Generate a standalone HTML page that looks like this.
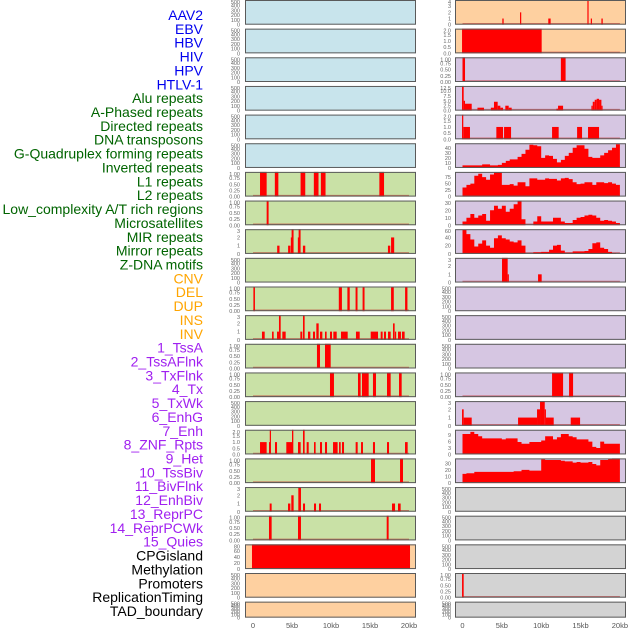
<!DOCTYPE html>
<html><head><meta charset="utf-8"><style>
html,body{margin:0;padding:0;background:#fff}
svg{display:block}
</style></head><body>
<svg id="chart" width="630" height="630" viewBox="0 0 630 630" xmlns="http://www.w3.org/2000/svg" font-family="Liberation Sans, sans-serif">
<g id="labels"></g>
<g id="panels"></g>
<g id="xaxes"></g>
</svg>
<script>
// ---- labels ----
const trackLabels = ["AAV2","EBV","HBV","HIV","HPV","HTLV-1","Alu repeats","A-Phased repeats","Directed repeats","DNA transposons","G-Quadruplex forming repeats","Inverted repeats","L1 repeats","L2 repeats","Low_complexity A/T rich regions","Microsatellites","MIR repeats","Mirror repeats","Z-DNA motifs","CNV","DEL","DUP","INS","INV","1_TssA","2_TssAFlnk","3_TxFlnk","4_Tx","5_TxWk","6_EnhG","7_Enh","8_ZNF_Rpts","9_Het","10_TssBiv","11_BivFlnk","12_EnhBiv","13_ReprPC","14_ReprPCWk","15_Quies","CPGisland","Methylation","Promoters","ReplicationTiming","TAD_boundary"];
const labelGroups = ["v","v","v","v","v","v","r","r","r","r","r","r","r","r","r","r","r","r","r","s","s","s","s","s","c","c","c","c","c","c","c","c","c","c","c","c","c","c","c","o","o","o","o","o"];
const xTickLabels = ["0","5kb","10kb","15kb","20kb"];
const xTickValues = [0,5,10,15,20];

// ---- tick sets ----
const T1 = ["0.00","0.25","0.50","0.75","1.00"];
const T2 = ["0.0","0.5","1.0","1.5","2.0"];
const T3 = ["0","1","2","3"];
const T4 = ["0","1","2","3","4"];
const TE = ["0","100","200","300","400","500"];
const TCNV = ["0","20","40","60","80"];
const TFLNK = ["0.0","2.5","5.0","7.5","10.0","12.5"];
const TTX = ["0","10","20","30","40"];
const TTXWK = ["0","25","50","75"];
const T30 = ["0","10","20","30"];
const T60 = ["0","20","40","60"];
const T9 = ["0","3","6","9"];

// ---- bar data: [startKb, endKb, value] ----
const alu = [[0.9,1.75,1],[2.8,3.25,1],[6.1,6.7,1],[7.8,8.4,1],[8.7,9.3,1],[16.2,16.8,1]];
const aphased = [[1.75,2.0,1]];
const directed = [[3.1,3.4,1],[4.5,4.8,1],[4.85,4.95,2],[4.95,5.2,3],[5.75,5.85,2],[5.85,6.1,3],[6.4,6.7,1],[17.3,17.6,1],[17.7,18.1,2]];
const gquad = [[0.05,0.25,1],[11.0,11.4,1],[12.1,12.4,1],[13.15,13.4,1],[14.05,14.3,1],[17.7,18.05,1],[19.5,19.8,1]];
const inverted = [[1.15,1.5,1],[2.44,2.65,1],[3.08,3.33,1],[3.33,3.55,3],[3.76,4.19,1],[6.07,6.32,1],[6.41,6.62,3],[7.05,7.35,1],[7.69,7.95,1],[8.12,8.42,2],[8.59,8.89,1],[9.23,9.44,1],[9.87,10.13,1],[10.3,10.73,1],[11.28,12.14,1],[13.2,13.68,1],[15.09,16.03,1],[16.37,16.62,1],[16.79,17.05,1],[17.31,17.65,1],[17.95,18.16,2],[18.2,18.33,1],[18.59,18.97,1],[19.1,19.44,1]];
const l1 = [[8.2,8.59,1],[9.23,9.96,1]];
const l2 = [[9.87,10.38,1],[13.46,13.8,1],[13.97,14.83,1],[15.38,15.77,1],[17.18,17.65,1],[18.72,19.06,1]];
const micro = [[0.9,1.75,1],[2.05,2.15,1],[2.15,2.3,2],[2.82,3.08,1],[4.27,5.0,1],[5.0,5.17,2],[5.77,6.11,1],[6.41,6.62,2],[6.88,7.14,1],[7.82,8.03,1],[8.59,8.85,1],[9.23,9.49,1],[10.26,10.85,1],[11.03,11.24,1],[11.41,11.67,1],[13.16,13.42,1],[13.85,14.1,1],[15.38,15.64,1],[17.18,17.44,1],[19.49,19.83,1]];
const mir = [[15.13,15.64,1],[18.85,19.23,1]];
const mirror = [[2.14,2.39,1],[4.49,4.79,1],[4.91,5.21,2],[5.81,6.15,3],[6.41,6.67,1],[7.82,8.08,1],[8.46,8.72,1],[17.82,18.21,1],[18.59,18.93,1]];
const zdna = [[2.05,2.39,1],[5.77,6.15,1],[17.14,17.39,1]];
const cnv = [[-0.13,20.13,82]];
const ins = [[5.06,5.23,1],[7.31,7.44,2],[10.9,11.2,1],[15.87,16.0,4],[16.3,16.45,1],[17.65,17.82,1]];
const inv = [[-0.06,10.06,2]];
const tssa = [[0,0.32,1],[12.5,13.1,1]];
const tssaflnk = [[-0.06,0.15,12.5],[0.15,0.32,5],[0.32,1.17,3.5],[1.9,2.73,1.5],[3.6,4.0,1.5],[4.0,4.47,4.5],[4.47,4.81,2.5],[4.81,5.15,1.5],[5.44,5.87,2.5],[5.87,6.25,1.5],[11.93,12.14,1],[12.14,12.78,2.5],[16.38,16.55,2.5],[16.55,16.8,4.5],[16.8,17.05,5.5],[17.05,17.35,6],[17.35,17.65,5.5],[17.65,17.72,2.5]];
const txflnk = [[-0.06,0.1,2],[0.1,0.95,1],[4.3,5.15,1],[5.28,6.17,1],[11.38,12.22,1],[14.56,15.19,1],[15.95,17.35,1]];
const znf = [[5.02,5.74,3],[5.74,5.87,1],[9.6,10.06,1]];
const enhbiv = [[11.38,12.78,1],[13.54,14.05,1]];
const reprpc = [[-0.06,0.15,2],[0.15,1.17,1],[7.06,9.47,1],[9.47,9.85,2],[9.85,10.45,3],[10.45,10.6,2],[10.6,11.59,1],[13.75,14.94,1]];
const repl = [[-0.06,0.15,1]];

// ---- binned profiles (0.5kb bins from 0 to 20kb) ----
const tx = [5,5,5,5,5,7,7,5,5,6,10,14,17,17,22,28,36,46,45,43,20,25,24,18,11,16,24,30,40,45,45,38,22,20,20,25,30,35,40,47];
const txwk = [35,45,50,80,88,75,65,85,93,93,45,45,48,42,55,55,40,70,70,65,65,70,68,68,62,70,72,67,55,48,50,55,55,45,55,55,52,55,50,45];
const enhg = [5,10,15,10,13,15,6,20,26,22,26,18,22,28,33,8,0,0,5,12,5,5,5,10,10,5,3,3,7,10,11,13,14,13,10,6,7,6,5,3];
const enh = [58,48,35,18,25,33,20,15,38,45,38,35,30,28,33,20,0,0,4,4,5,5,10,20,22,8,3,3,6,6,6,7,12,26,28,15,12,5,2,0];
const reprpcwk = [9.5,9.5,10.5,9.5,8.5,7.5,7.5,7.5,7.5,7.5,7,7.5,7.5,7.5,5.8,5,5,5.8,5.8,5.8,6.5,8.5,8.5,7,8,9.5,9.5,8.5,8,7,7,7,6,3.5,3,6,5,5,5,5];
const quies = [14,15,15,17,17,17,17,17,17,17,17,17,17,18,18,20,20,19,19,19,36,35,35,35,35,34,33,33,31,32,31,31,32,29,27,35,35,37,37.5,37.5];

// panel specs: [col,row,bg,type,data,ticks,ymax,name]
const BLUE="#c8e4ec",GREEN="#c9e1a6",PEACH="#fed0a0",PURP="#d6c6e2",GREY="#d3d3d3";
const panelSpecs = [
 [0,0,BLUE,"e",null,TE,520,"AAV2"],[0,1,BLUE,"e",null,TE,520,"EBV"],[0,2,BLUE,"e",null,TE,520,"HBV"],
 [0,3,BLUE,"e",null,TE,520,"HIV"],[0,4,BLUE,"e",null,TE,520,"HPV"],[0,5,BLUE,"e",null,TE,520,"HTLV-1"],
 [0,6,GREEN,"b",alu,T1,1,"Alu"],[0,7,GREEN,"b",aphased,T1,1,"A-Phased"],[0,8,GREEN,"b",directed,T3,3,"Directed"],
 [0,9,GREEN,"e",null,TE,520,"DNA-transposons"],[0,10,GREEN,"b",gquad,T1,1,"G-Quadruplex"],[0,11,GREEN,"b",inverted,T3,3,"Inverted"],
 [0,12,GREEN,"b",l1,T1,1,"L1"],[0,13,GREEN,"b",l2,T1,1,"L2"],[0,14,GREEN,"e",null,TE,520,"Low-complexity"],
 [0,15,GREEN,"b",micro,T2,2,"Microsatellites"],[0,16,GREEN,"b",mir,T1,1,"MIR"],[0,17,GREEN,"b",mirror,T3,3,"Mirror"],
 [0,18,GREEN,"b",zdna,T1,1,"Z-DNA"],[0,19,PEACH,"b",cnv,TCNV,82,"CNV"],[0,20,PEACH,"e",null,TE,520,"DEL"],[0,21,PEACH,"e",null,TE,520,"DUP"],
 [1,0,PEACH,"b",ins,T4,4,"INS"],[1,1,PEACH,"b",inv,T2,2,"INV"],[1,2,PURP,"b",tssa,T1,1,"TssA"],
 [1,3,PURP,"b",tssaflnk,TFLNK,12.5,"TssAFlnk"],[1,4,PURP,"b",txflnk,T2,2,"TxFlnk"],[1,5,PURP,"p",tx,TTX,49,"Tx"],
 [1,6,PURP,"p",txwk,TTXWK,95,"TxWk"],[1,7,PURP,"p",enhg,T30,33,"EnhG"],[1,8,PURP,"p",enh,T60,60,"Enh"],
 [1,9,PURP,"b",znf,T3,3,"ZNF-Rpts"],[1,10,PURP,"e",null,TE,520,"Het"],[1,11,PURP,"e",null,TE,520,"TssBiv"],
 [1,12,PURP,"e",null,TE,520,"BivFlnk"],[1,13,PURP,"b",enhbiv,T1,1,"EnhBiv"],[1,14,PURP,"b",reprpc,T3,3,"ReprPC"],
 [1,15,PURP,"p",reprpcwk,T9,11.5,"ReprPCWk"],[1,16,PURP,"p",quies,T30,37.5,"Quies"],
 [1,17,GREY,"e",null,TE,520,"CPGisland"],[1,18,GREY,"e",null,TE,520,"Methylation"],[1,19,GREY,"e",null,TE,520,"Promoters"],
 [1,20,GREY,"b",repl,T1,1,"ReplicationTiming"],[1,21,GREY,"e",null,TE,520,"TAD-boundary"]
];

const NS="http://www.w3.org/2000/svg";
function mk(tag,attrs,parent){const e=document.createElementNS(NS,tag);for(const k in attrs)e.setAttribute(k,attrs[k]);parent.appendChild(e);return e;}
const colX=[245,455], colW=171, zeroOff=[8,7.5], kbPx=[7.8,7.87];
function xScale(col,kb){return colX[col]+zeroOff[col]+kb*kbPx[col];}
function rowTop(r){return 28.65*r;}
function rowH(r){return r===21?16:24.7;}

// labels
const gColor={v:"#0000ee",r:"#006400",s:"#ffa500",c:"#a020f0",o:"#000"};
const lg=document.getElementById("labels");
trackLabels.forEach((t,i)=>{
  const el=mk("text",{x:203,y:15+13.86*i+5,"text-anchor":"end","font-size":"14",fill:gColor[labelGroups[i]]},lg);
  
  
  el.textContent=t;
});

const pg=document.getElementById("panels");
panelSpecs.forEach(s=>{
  const [col,row,bg,type,data,ticks,ymax,name]=s;
  const top=rowTop(row), h=rowH(row), bot=top+h, x0=colX[col];
  const g=mk("g",{},pg);
  
  
  mk("rect",{x:x0,y:top,width:colW,height:h,fill:bg},g);
  const yS=v=>bot-(v/ymax)*h;
  if(type!=="e"){
    const bl=mk("line",{x1:xScale(col,0),x2:xScale(col,20),y1:bot-1,y2:bot-1,stroke:"rgba(190,20,20,0.5)","stroke-width":"1.5"},g);
    
    
  }
  if(type==="b"){
    data.forEach(d=>{
      const xa=xScale(col,d[0]), xb=xScale(col,d[1]);
      const r=mk("rect",{x:xa,y:yS(d[2]),width:Math.max(1.2,xb-xa),height:bot-yS(d[2]),fill:"#ff0000"},g);
      
      
    });
  } else if(type==="p"){
    let dstr="M"+xScale(col,0)+","+bot;
    data.forEach((v,i)=>{
      const xa=xScale(col,i*0.5), xb=xScale(col,i*0.5+0.5), y=yS(v);
      dstr+=" L"+xa+","+y+" L"+xb+","+y;
    });
    dstr+=" L"+xScale(col,20)+","+bot+" Z";
    const p=mk("path",{d:dstr,fill:"#ff0000"},g);
    
    
  }
  mk("rect",{x:x0+0.5,y:top+0.5,width:colW-1,height:h-1,fill:"none",stroke:"#5a5a5a","stroke-width":"1"},g);
  const tx0=col===0?240:451;
  ticks.forEach(t=>{
    const v=parseFloat(t);
    const yy=Math.min(bot,Math.max(top+2,yS(v)));
    const el=mk("text",{x:tx0,y:yy+2,"text-anchor":"end","font-size":"5.5",fill:"#666"},g);
    
    
    el.textContent=t;
  });
});

const xg=document.getElementById("xaxes");
[0,1].forEach(col=>{
  xTickValues.forEach((v,i)=>{
    const el=mk("text",{x:xScale(col,v),y:628,"text-anchor":"middle","font-size":"7.5",fill:"#555"},xg);
    
    
    el.textContent=xTickLabels[i];
  });
});
</script>
</body></html>
